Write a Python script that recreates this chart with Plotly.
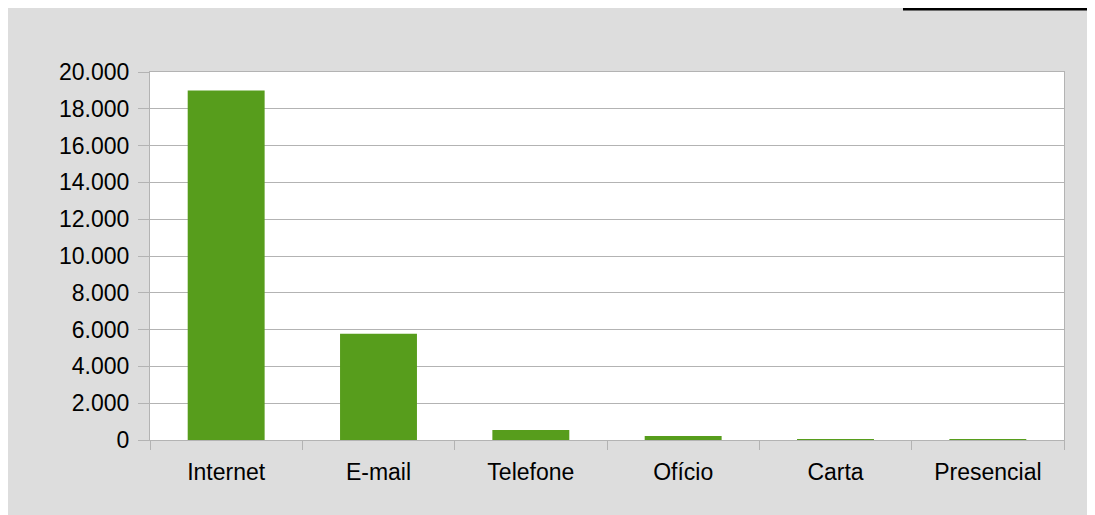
import plotly.graph_objects as go

categories = ["Internet", "E-mail", "Telefone", "Ofício", "Carta", "Presencial"]
values = [19000, 5780, 550, 220, 50, 50]
y_ticks = [0, 2000, 4000, 6000, 8000, 10000, 12000, 14000, 16000, 18000, 20000]

# figure is placed by the page at (8, 8)
W, H = 1087, 507
L, R, T, B = 142, 1056, 64, 432
pw, ph = R - L, B - T

def px(x):
    return (x - L) / pw

def py(y):
    return (B - y) / ph

fig = go.Figure(go.Bar(x=categories, y=values, marker=dict(color="#579d1c", line=dict(width=0))))

grid = "#b3b3b3"
fig.update_layout(
    width=W, height=H,
    margin=dict(l=L, r=W - R, t=T, b=H - B, pad=0),
    paper_bgcolor="#dddddd",
    plot_bgcolor="white",
    separators=",.",
    bargap=0.495,
    showlegend=False,
    font=dict(family="Liberation Sans, Arial, sans-serif", size=23, color="black"),
    xaxis=dict(
        showline=True, linecolor=grid, linewidth=1, mirror=True,
        ticks="outside", ticklen=9, tickcolor=grid, tickwidth=1,
        tickson="boundaries", showgrid=False,
        ticklabelstandoff=11,
    ),
    yaxis=dict(
        range=[0, 20000], tickvals=y_ticks, tickformat=",d",
        showline=True, linecolor=grid, linewidth=1, mirror=True,
        ticks="outside", ticklen=11, tickcolor=grid, tickwidth=1,
        showgrid=True, gridcolor=grid, gridwidth=1,
        zeroline=False, ticklabelstandoff=4,
    ),
    shapes=[
        dict(type="line", xref="paper", yref="paper", x0=px(895), x1=px(W + 10), y0=py(1), y1=py(1),
             line=dict(width=3, color="black"), layer="above"),
    ],
)

fig.write_html("out.html")
